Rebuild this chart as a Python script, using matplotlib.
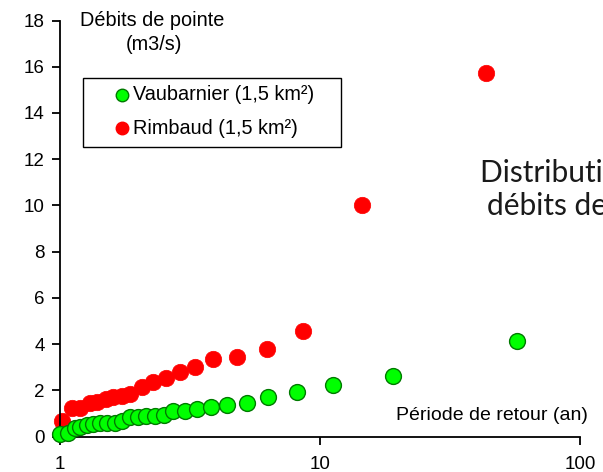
import numpy as np
import matplotlib
matplotlib.use('Agg')
import matplotlib.pyplot as plt
from matplotlib.lines import Line2D
from matplotlib.patches import Rectangle

# Période de retour (an) et débits de pointe (m3/s)
vaub_T = [1.0, 1.076, 1.14, 1.19, 1.27, 1.34, 1.43, 1.51, 1.63, 1.73, 1.86, 2.0, 2.14,
          2.32, 2.51, 2.71, 3.03, 3.37, 3.81, 4.38, 5.22, 6.33, 8.18, 11.25, 19.1, 57.1]
vaub_Q = [0.1, 0.17, 0.36, 0.43, 0.5, 0.55, 0.58, 0.58, 0.58, 0.69, 0.84, 0.84, 0.9,
          0.9, 0.94, 1.13, 1.13, 1.19, 1.27, 1.37, 1.45, 1.7, 1.92, 2.24, 2.63, 4.13]

rimb_T = [1.02, 1.11, 1.19, 1.30, 1.39, 1.50, 1.60, 1.73, 1.86, 2.06, 2.27, 2.56, 2.90,
          3.30, 3.89, 4.81, 6.24, 8.63, 14.5, 43.5]
rimb_Q = [0.69, 1.23, 1.23, 1.44, 1.52, 1.62, 1.70, 1.76, 1.85, 2.14, 2.38, 2.55, 2.81,
          3.03, 3.36, 3.46, 3.80, 4.55, 10.03, 15.74]

x_ticks = [1, 10, 100]
x_labels = ['1', '10', '100']
y_ticks = np.arange(0, 19, 2)

plt.rcParams['font.family'] = ['Liberation Sans', 'DejaVu Sans']

W, H = 603, 472
fig = plt.figure(figsize=(W / 100, H / 100), dpi=100)
ax = fig.add_axes([60 / W, 1 - 436.7 / H, (580 - 60) / W, (436.7 - 20.5) / H])


def fx(px):
    return px / W


def fy(py):
    return 1 - py / H


ax.scatter(vaub_T, vaub_Q, s=130, color='#00ff00', edgecolors='#007a00', linewidths=1.0,
           zorder=3, clip_on=False)
ax.scatter(rimb_T, rimb_Q, s=140, color='#ff0000', edgecolors='#ff0000', linewidths=0.5,
           zorder=2, clip_on=False)

ax.set_xscale('log')
ax.set_xlim(1, 100)
ax.set_ylim(0, 18)
ax.set_xticks(x_ticks)
ax.set_xticklabels(x_labels)
ax.xaxis.set_minor_locator(matplotlib.ticker.NullLocator())
ax.set_yticks(y_ticks)
ax.tick_params(axis='both', direction='out', length=6, width=1.3, labelsize=13.5, colors='black')
ax.tick_params(axis='x', pad=8)
ax.tick_params(axis='y', pad=5)
for s in ['top', 'right']:
    ax.spines[s].set_visible(False)
for s in ['left', 'bottom']:
    ax.spines[s].set_linewidth(1.3)

# titres des axes
fig.text(fx(80), fy(21), 'Débits de pointe', fontsize=14.3, va='center', ha='left')
fig.text(fx(154), fy(45), '(m3/s)', fontsize=14.3, va='center', ha='center')
fig.text(fx(588), fy(415), 'Période de retour (an)', fontsize=14, va='center', ha='right')

# légende encadrée
fig.patches.append(Rectangle((fx(83), fy(147)), fx(341) - fx(83), fy(78) - fy(147),
                             transform=fig.transFigure, fill=False, edgecolor='black',
                             linewidth=1.0))
legend_rows = [
    ('Vaubarnier (1,5 km²)', '#00ff00', '#007a00', 95),
    ('Rimbaud (1,5 km²)', '#ff0000', '#ff0000', 128),
]
for label, face, edge, py in legend_rows:
    fig.add_artist(Line2D([fx(122)], [fy(py)], marker='o', ls='none', markersize=9,
                          markerfacecolor=face, markeredgecolor=edge, markeredgewidth=1.0,
                          transform=fig.transFigure))
    fig.text(fx(133), fy(py), label, fontsize=14.3, va='center', ha='left')

# texte de la diapositive, coupé par le bord
fig.text(fx(480), fy(181.7), 'Distribution des', fontsize=21.5, family=['Lato', 'DejaVu Sans'],
         color='#1a1a1a', va='baseline', ha='left')
fig.text(fx(487), fy(215), 'débits de pointe', fontsize=21.5, family=['Lato', 'DejaVu Sans'],
         color='#1a1a1a', va='baseline', ha='left')

fig.savefig('out.png', dpi=100)
